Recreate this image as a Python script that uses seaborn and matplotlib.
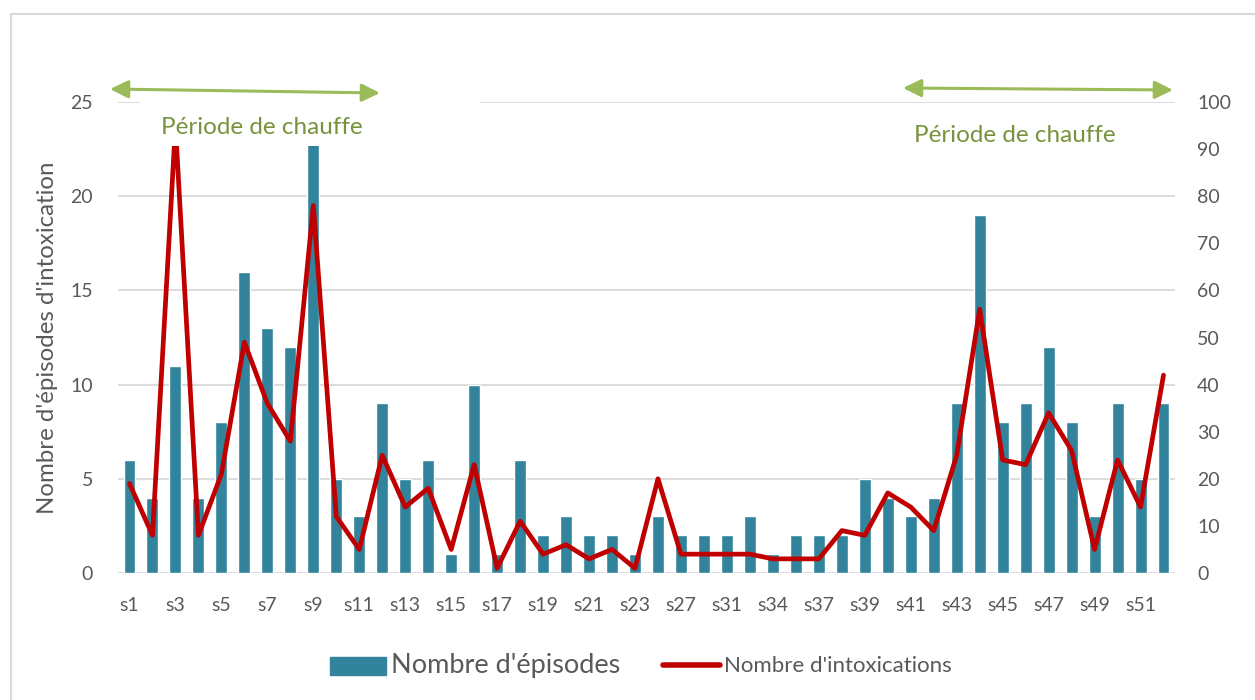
# ===== libs =====
import numpy as np
import pandas as pd
import matplotlib
matplotlib.use("Agg")
import matplotlib.pyplot as plt
import seaborn as sns
from matplotlib.patches import Patch, Rectangle
from matplotlib.lines import Line2D

# ===== data =====
semaines = ['s1', 's2', 's3', 's4', 's5', 's6', 's7', 's8', 's9', 's10',
            's11', 's12', 's13', 's14', 's15', 's16', 's17', 's18', 's19', 's20',
            's21', 's22', 's23', 's25', 's27', 's29', 's31', 's32', 's34', 's35',
            's37', 's38', 's39', 's40', 's41', 's42', 's43', 's44', 's45', 's46',
            's47', 's48', 's49', 's50', 's51', 's52']
episodes = [6, 4, 11, 4, 8, 16, 13, 12, 24, 5,
            3, 9, 5, 6, 1, 10, 1, 6, 2, 3,
            2, 2, 1, 3, 2, 2, 2, 3, 1, 2,
            2, 2, 5, 4, 3, 4, 9, 19, 8, 9,
            12, 8, 3, 9, 5, 9]
intoxications = [19, 8, 95, 8, 21, 49, 36, 28, 78, 12,
                 5, 25, 14, 18, 5, 23, 1, 11, 4, 6,
                 3, 5, 1, 20, 4, 4, 4, 4, 3, 3,
                 3, 9, 8, 17, 14, 9, 25, 56, 24, 23,
                 34, 26, 5, 24, 14, 42]

df = pd.DataFrame({'semaine': semaines, 'episodes': episodes,
                   'intoxications': intoxications})
df['pos'] = range(len(df))

# ===== style =====
sns.set_style("white")
plt.rcParams['font.family'] = ['Lato', 'DejaVu Sans']
gris = '#595959'
bleu = '#31849B'
rouge = '#C00000'
vert = '#9BBB59'
vert_txt = '#77933C'

fig = plt.figure(figsize=(12.55, 7), dpi=100)
W, H = 1255, 700
ax = fig.add_axes([118 / W, 1 - 573 / H, (1175 - 118) / W, (573 - 102) / H])

# barres
sns.barplot(data=df, x='semaine', y='episodes', color=bleu, saturation=1,
            width=0.52, ax=ax, zorder=2)
ax.set_ylim(0, 25)
ax.set_xlim(-0.5, len(df) - 0.5)
ax.set_yticks(range(0, 26, 5))
ax.yaxis.grid(True, color='#D9D9D9', lw=1.3)
ax.set_axisbelow(True)
ax.set_xticks(df['pos'][::2])
ax.set_xticklabels(df['semaine'][::2])
ax.tick_params(axis='both', length=0, labelsize=14, labelcolor=gris)
ax.tick_params(axis='y', pad=18)
ax.tick_params(axis='x', pad=17)
ax.set_xlabel('')
ax.set_ylabel("Nombre d'épisodes d'intoxication", fontsize=17.3, color=gris, labelpad=9)

# courbe sur l'axe de droite
ax2 = ax.twinx()
sns.lineplot(data=df, x='pos', y='intoxications', color=rouge, lw=3.4,
             sort=False, ax=ax2)
ax2.set_ylim(0, 100)
ax2.set_yticks(range(0, 101, 10))
ax2.tick_params(axis='y', length=0, labelsize=14, labelcolor=gris, pad=16)
ax2.set_ylabel('')
ax2.set_xlim(-0.5, len(df) - 0.5)

for a in (ax, ax2):
    for s in a.spines.values():
        s.set_visible(False)

# ===== cadre gris =====
fig.add_artist(Line2D([11 / W, 1], [1 - 14 / H, 1 - 14 / H], color='#D9D9D9', lw=1.5))
fig.add_artist(Line2D([11 / W, 11 / W], [0, 1 - 14 / H], color='#D9D9D9', lw=1.5))

# ===== periode de chauffe =====
fig.add_artist(Rectangle((140 / W, 1 - 146 / H), 340 / W, 47 / H,
                         transform=fig.transFigure, facecolor='white',
                         edgecolor='none', zorder=3))
fig.text(262 / W, 1 - 127 / H, 'Période de chauffe', color=vert_txt,
         fontsize=17.5, ha='center', va='center', zorder=4)
fig.text(1015 / W, 1 - 135 / H, 'Période de chauffe', color=vert_txt,
         fontsize=17.5, ha='center', va='center', zorder=4)

fleche = dict(arrowstyle='<|-|>,head_length=0.55,head_width=0.27', color=vert,
              lw=2.2, mutation_scale=20, shrinkA=0, shrinkB=0)
fig.add_artist(plt.Annotation('', xy=(380 / W, 1 - 93 / H), xytext=(110 / W, 1 - 89 / H),
                              xycoords='figure fraction', arrowprops=fleche, zorder=5))
fig.add_artist(plt.Annotation('', xy=(1173 / W, 1 - 90 / H), xytext=(903 / W, 1 - 88 / H),
                              xycoords='figure fraction', arrowprops=fleche, zorder=5))

# ===== legende =====
handles = [Patch(facecolor=bleu, edgecolor=bleu),
           Line2D([0], [0], color=rouge, lw=4)]
leg = fig.legend(handles, ["Nombre d'épisodes", "Nombre d'intoxications"],
                 loc='center', bbox_to_anchor=(641 / W, 1 - 665 / H), ncol=2,
                 frameon=False, fontsize=14, handlelength=2.9, handleheight=1.1,
                 handletextpad=0.25, columnspacing=2.2)
leg.get_texts()[0].set_fontsize(19.5)
leg.get_texts()[1].set_fontsize(16)
for t in leg.get_texts():
    t.set_color(gris)

fig.savefig('out.png', dpi=100)
